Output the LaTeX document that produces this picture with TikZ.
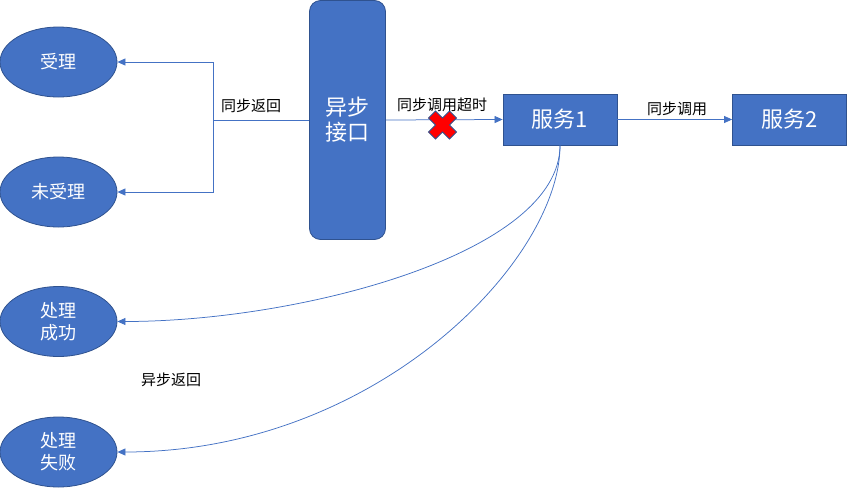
\documentclass[tikz,border=0pt]{standalone}
\usepackage{fontspec}
\setmainfont{Noto Sans CJK SC}
\usepackage{xcolor}
\usetikzlibrary{shapes,arrows.meta,positioning}
\definecolor{officeblue}{HTML}{4472C4}
\definecolor{edgeblue}{HTML}{2F528F}
\definecolor{crossred}{HTML}{FF0000}

\tikzset{
    endnode/.style={ellipse, draw=edgeblue, fill=officeblue, line width=0.8pt, minimum width=117pt, minimum height=70pt, inner sep=0pt, align=center, text=white, font=\fontsize{18}{22}\selectfont},
    gatebox/.style={rectangle, rounded corners=11pt, draw=edgeblue, fill=officeblue, line width=0.8pt, minimum width=76pt, minimum height=239pt, align=center, text=white, font=\fontsize{22}{25}\selectfont},
    svcbox/.style={rectangle, draw=edgeblue, fill=officeblue, line width=0.8pt, minimum width=114pt, minimum height=51pt, text=white, font=\fontsize{22}{25}\selectfont},
    link/.style={draw=officeblue, line width=0.75pt, -{Triangle[length=8pt,width=7pt]}},
    tag/.style={font=\fontsize{15}{18}\selectfont, text=black, inner sep=1pt}
}

\begin{document}
\begin{tikzpicture}[x=1pt, y=-1pt]
    \useasboundingbox (0,0) rectangle (847,488);

    \node[endnode] (accepted) at (58.5,62) {受理};
    \node[endnode] (rejected) at (58.5,192) {未受理};
    \node[endnode] (success) at (58.5,321.5) {处理\\成功};
    \node[endnode] (failure) at (58.5,452) {处理\\失败};
    \node[gatebox] (gateway) at (347.5,120) {异步\\接口};
    \node[svcbox] (svc1) at (560,119.5) {服务1};
    \node[svcbox] (svc2) at (789.5,119.5) {服务2};

    % sync return
    \coordinate (split) at (213,120);
    \draw[link] (gateway.west) -- (split) |- (accepted.east);
    \draw[link] (split) |- (rejected.east);
    \node[tag] (syncret) at (251,106) {同步返回};

    % calls
    \draw[link] (gateway.east) -- (svc1.west);
    \node[tag] (timeout) at (442,105) {同步调用超时};
    \draw[link] (svc1.east) -- (svc2.west);
    \node[tag] (synccall) at (677,109) {同步调用};

    % timeout mark
    \draw[fill=crossred, draw=edgeblue, line width=0.8pt, shift={(442.5,125)}]
        (-14,-7) -- (-7,-14) -- (0,-7) -- (7,-14) -- (14,-7) -- (7,0) -- (14,7)
        -- (7,14) -- (0,7) -- (-7,14) -- (-14,7) -- (-7,0) -- cycle;

    % async return
    \draw[link] (svc1.south) .. controls +(0,108) and +(183,0) .. (success.east);
    \draw[link] (svc1.south) .. controls +(0,115) and +(259,0) .. (failure.east);
    \node[tag] (asyncret) at (171,380) {异步返回};
\end{tikzpicture}
\end{document}
